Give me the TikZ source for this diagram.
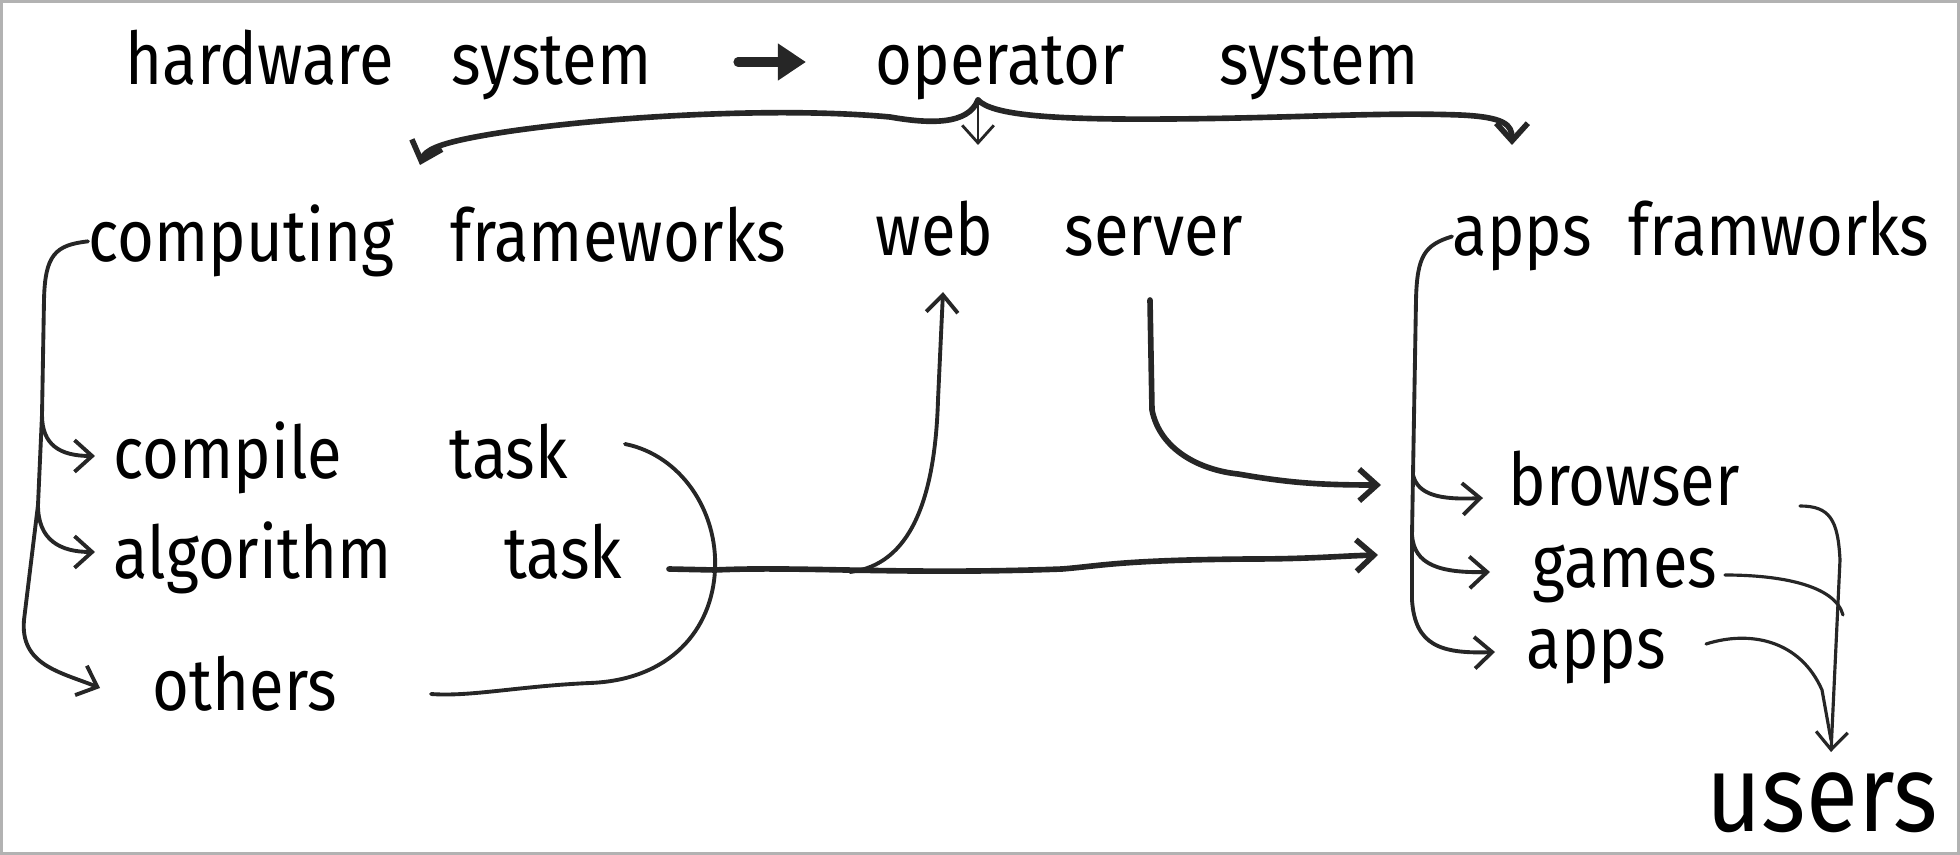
\documentclass[tikz,border=0pt]{standalone}
\usepackage{fontspec}
\setmainfont{Fira Sans}
\usetikzlibrary{arrows.meta}
\newcommand{\tall}[1]{\scalebox{1}[1.15]{#1}}
\begin{document}
\begin{tikzpicture}[x=0.01cm,y=-0.01cm,
  lbl/.style={anchor=base west,inner sep=0pt,font=\fontsize{18}{22}\selectfont},
  ink/.style={line width=1.1pt,line cap=round,line join=round,color=black!85},
  heavy/.style={ink,line width=1.6pt},
  tip/.style={-{Straight Barb[length=5pt,width=9pt]}}]
\useasboundingbox (0,0) rectangle (1960,855);
\draw[black!30,line width=1.2pt] (1,1) rectangle (1959,854);
% texts
\node[lbl] (hw) at (125,85) {\tall{hardware\hspace{0.92em}system}};
\node[lbl] (os) at (875,85) {\tall{operator\hspace{1.5em}system}};
\node[lbl] (cf) at (88,262) {\tall{computing\hspace{0.9em}frameworks}};
\node[lbl] (ws) at (875,256) {\tall{web\hspace{1.13em}server}};
\node[lbl] (af) at (1452,256) {\tall{apps\hspace{0.58em}framworks}};
\node[lbl] (ct) at (113,479) {\tall{compile\hspace{1.7em}task}};
\node[lbl] (at) at (113,578) {\tall{algorithm\hspace{1.78em}task}};
\node[lbl] (ot) at (152,710) {\tall{others}};
\node[lbl] (br) at (1508,506) {\tall{browser}};
\node[lbl] (gm) at (1532,588) {\tall{games}};
\node[lbl] (ap) at (1526,669) {\tall{apps}};
\node[lbl,font=\fontsize{27}{31}\selectfont] (us) at (1706,831) {\tall{users}};
% coordinates
\coordinate (arrS) at (738,62);
\coordinate (arrE) at (806,62);
\coordinate (bt) at (978,100);
\coordinate (tL) at (420,165);
\coordinate (tM) at (978,145);
\coordinate (tR) at (1512,145);
\coordinate (cA) at (95,456);
\coordinate (cB) at (95,552);
\coordinate (cC) at (100,688);
\coordinate (tskTop) at (625,444);
\coordinate (tskBot) at (431,694);
\coordinate (webTip) at (943,292);
\coordinate (join) at (715,570);
\coordinate (in1) at (1381,485);
\coordinate (in2) at (1378,555);
\coordinate (aB) at (1483,498);
\coordinate (aG) at (1490,572);
\coordinate (aA) at (1495,652);
\coordinate (uTip) at (1831,752);
% hardware -> operator
\draw[heavy,line width=2.6pt,-{Triangle[length=8pt,width=10pt]}] (arrS) -- (arrE);
% brace
\draw[heavy,tip] (bt) .. controls (968,125) and (930,124) .. (890,117)
  .. controls (760,105) and (560,120) .. (470,138)
  .. controls (440,144) and (425,150) .. (tL);
\draw[ink,line width=0.8pt,tip] (bt) -- (tM);
\draw[heavy,tip] (bt) .. controls (992,115) and (1050,120) .. (1170,119)
  .. controls (1300,118) and (1380,112) .. (1460,115)
  .. controls (1505,117) and (1512,125) .. (tR);
% computing bracket
\draw[ink,tip] (cf.west) .. controls (55,245) and (45,255) .. (44,300) -- (42,415)
  .. controls (42,445) and (60,456) .. (cA);
\draw[ink,tip] (42,415) -- (38,505) .. controls (38,540) and (60,552) .. (cB);
\draw[ink,tip] (38,505) -- (24,620) .. controls (20,665) and (60,672) .. (cC);
% tasks bracket
\draw[ink] (tskTop) .. controls (680,455) and (718,510) .. (join)
  .. controls (712,630) and (670,680) .. (590,683)
  .. controls (520,686) and (470,697) .. (tskBot);
% long arrow
\draw[heavy,tip] (669,569) -- (join) .. controls (800,566) and (900,575) .. (1062,569)
  .. controls (1100,566) and (1120,560) .. (1250,559)
  .. controls (1310,559) and (1340,556) .. (in2);
% to web
\draw[ink,tip] (850,572) .. controls (910,565) and (935,500) .. (938,400) -- (webTip);
% server arrow
\draw[heavy,tip] (1150,300) -- (1152,410) .. controls (1160,450) and (1200,470) .. (1238,474)
  .. controls (1290,483) and (1320,485) .. (in1);
% apps bracket
\draw[ink,tip] (af.west) .. controls (1425,245) and (1417,255) .. (1416,300) -- (1413,475)
  .. controls (1418,495) and (1440,500) .. (aB);
\draw[ink,tip] (1413,475) -- (1412,535) .. controls (1414,565) and (1440,573) .. (aG);
\draw[ink,tip] (1412,535) -- (1412,600) .. controls (1415,645) and (1440,654) .. (aA);
% to users
\draw[ink,line width=0.9pt,tip] (1800,506) .. controls (1830,506) and (1838,520) .. (1840,560) -- (uTip);
\draw[ink,line width=0.9pt] (1725,575) .. controls (1780,575) and (1835,585) .. (1843,615);
\draw[ink,line width=0.9pt] (1706,644) .. controls (1750,630) and (1800,640) .. (1822,690) -- (1831,740);
\end{tikzpicture}
\end{document}
